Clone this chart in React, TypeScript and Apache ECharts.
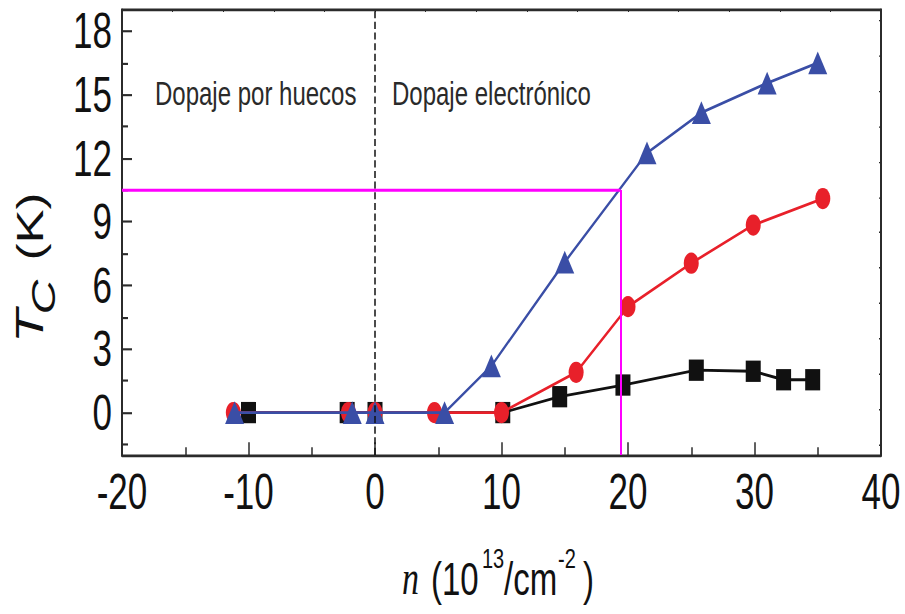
import React, { useEffect, useRef } from "react";
import * as echarts from "echarts";

// Carrier density n (10^13 cm^-2) and critical temperature Tc (K) per sample set
const squareN = [-10, -2.2, 0, 10.1, 14.6, 19.6, 25.4, 29.9, 32.3, 34.6];
const squareTc = [0, 0, 0, 0, 0.75, 1.3, 2.0, 1.95, 1.55, 1.55];

const circleN = [-11.2, -2.1, 0, 4.7, 10.0, 15.9, 20.0, 25.0, 29.9, 35.4];
const circleTc = [0, 0, 0, 0, 0, 1.9, 5.0, 7.05, 8.85, 10.1];

const triangleN = [-11.1, -1.8, 0, 5.5, 9.2, 15.0, 21.5, 25.8, 31.0, 35.0];
const triangleTc = [0, 0, 0, 0, 2.2, 7.1, 12.25, 14.15, 15.55, 16.5];

// Guide lines: charge neutrality and the Tc read-off at a given density
const neutralN = 0;
const guideN = 19.4;
const guideTc = 10.5;

// Axis ranges and tick values
const xMin = -20;
const xMax = 40;
const yMin = -2;
const yMax = 19;
const yLabelValues = [0, 3, 6, 9, 12, 15, 18];
const yMinorValues = [-1.5, 1.5, 4.5, 7.5, 10.5, 13.5, 16.5];
const rightTickValues = [-1.5, 0.17, 1.83, 3.5, 5.17, 6.83, 8.5, 10.17, 11.83, 13.5, 15.17, 16.83, 18.5];

const holeRegion = "Dopaje por huecos";
const electronRegion = "Dopaje electrónico";

const STRETCH = 1.42;
const WIDTH = 905;
const HEIGHT = 614;

const SANS = "Liberation Sans, Arial, Helvetica, sans-serif";
const SERIF = "Liberation Serif, Times New Roman, serif";

const pairs = (xs: number[], ys: number[]) => xs.map((x, i) => [x, ys[i]]);

// place a text by its baseline
const txt = (
  text: string,
  x: number,
  baseline: number,
  size: number,
  extra: Record<string, unknown> = {}
) => ({
  type: "text",
  x,
  y: baseline - 0.35 * size,
  style: {
    text,
    fontSize: size,
    fontFamily: SANS,
    fill: "#111",
    align: "left",
    verticalAlign: "middle",
    ...extra,
  },
});

export default function App() {
  const ref = useRef<HTMLDivElement>(null);

  useEffect(() => {
    if (!ref.current) return;
    const chart = echarts.init(ref.current, undefined, { renderer: "svg" });

    const axisColor = "#2b2b2b";
    const tickLabel = {
      fontSize: 35,
      color: "#111",
      fontFamily: SANS,
    };

    const option = {
      animation: false,
      backgroundColor: "#fff",
      grid: { left: 122, top: 7, width: 759, height: 313.4, containLabel: false },
      xAxis: [
        {
          type: "value",
          min: xMin,
          max: xMax,
          interval: 10,
          position: "bottom",
          axisLine: { show: true, onZero: false, lineStyle: { color: axisColor, width: 2 } },
          axisTick: { show: true, inside: true, length: 9, lineStyle: { color: axisColor, width: 1.5 } },
          minorTick: { show: true, splitNumber: 2, length: 5.5, lineStyle: { color: axisColor, width: 1.5 } },
          splitLine: { show: false },
          axisLabel: { ...tickLabel, margin: 8 },
        },
        {
          type: "value",
          min: xMin,
          max: xMax,
          interval: 4,
          position: "top",
          axisLine: { show: true, onZero: false, lineStyle: { color: axisColor, width: 2 } },
          axisTick: { show: true, inside: true, length: 1.5, lineStyle: { color: axisColor, width: 1 } },
          splitLine: { show: false },
          axisLabel: { show: false },
        },
      ],
      yAxis: [
        {
          type: "value",
          min: yMin,
          max: yMax,
          position: "left",
          axisLine: { show: true, onZero: false, lineStyle: { color: axisColor, width: 2 } },
          axisTick: {
            show: true,
            inside: true,
            length: 10,
            customValues: yLabelValues,
            lineStyle: { color: axisColor, width: 1.5 },
          },
          splitLine: { show: false },
          axisLabel: { ...tickLabel, margin: 10, customValues: yLabelValues },
        },
        {
          type: "value",
          min: yMin,
          max: yMax,
          position: "left",
          axisLine: { show: false, onZero: false },
          axisTick: {
            show: true,
            inside: true,
            length: 6,
            customValues: yMinorValues,
            lineStyle: { color: axisColor, width: 1.5 },
          },
          splitLine: { show: false },
          axisLabel: { show: false },
        },
        {
          type: "value",
          min: yMin,
          max: yMax,
          position: "right",
          axisLine: { show: true, onZero: false, lineStyle: { color: axisColor, width: 2 } },
          axisTick: {
            show: true,
            inside: true,
            length: 2,
            customValues: rightTickValues,
            lineStyle: { color: axisColor, width: 1 },
          },
          splitLine: { show: false },
          axisLabel: { show: false },
        },
      ],
      series: [
        {
          name: "squares",
          type: "line",
          data: pairs(squareN, squareTc),
          symbol: "rect",
          symbolSize: 15,
          showSymbol: true,
          z: 2,
          itemStyle: { color: "#111" },
          lineStyle: { color: "#111", width: 2 },
          markLine: {
            silent: true,
            symbol: "none",
            label: { show: false },
            lineStyle: { color: "#111", type: [5, 2.5], width: 1.5 },
            data: [{ xAxis: neutralN }],
          },
        },
        {
          name: "circles",
          type: "line",
          data: pairs(circleN, circleTc),
          symbol: "circle",
          symbolSize: 15,
          z: 3,
          itemStyle: { color: "#e8202a" },
          lineStyle: { color: "#e8202a", width: 2 },
        },
        {
          name: "triangles",
          type: "line",
          data: pairs(triangleN, triangleTc),
          symbol: "triangle",
          symbolSize: [19, 16],
          z: 4,
          itemStyle: { color: "#3a4ea6" },
          lineStyle: { color: "#3a4ea6", width: 2 },
        },
        {
          name: "guide",
          type: "line",
          data: [],
          z: 6,
          markLine: {
            silent: true,
            symbol: "none",
            label: { show: false },
            lineStyle: { color: "#ff00ff", type: "solid", width: 2 },
            data: [
              [{ coord: [xMin, guideTc] }, { coord: [guideN, guideTc] }],
              [{ coord: [guideN, guideTc] }, { coord: [guideN, yMin] }],
            ],
          },
        },
      ],
      graphic: [
        txt(holeRegion, 155, 73.9, 24, { fill: "#2a2a2a" }),
        txt(electronRegion, 392, 73.9, 24, { fill: "#2a2a2a" }),
        {
          type: "group",
          x: 43,
          y: 241.5,
          rotation: Math.PI / 2,
          children: [
            txt("T", 0, 0, 39, { fontStyle: "italic" }),
            txt("C", 20, 12, 34, { fontStyle: "italic" }),
            txt("(K)", 58, 0, 36),
          ],
        },
        txt("n", 402, 419, 34, { fontStyle: "italic", fontFamily: SERIF }),
        txt("(10", 431, 419, 33),
        txt("13", 482, 400, 20),
        txt("/cm", 504, 419, 33),
        txt("-2", 558, 400, 20),
        txt(")", 583, 419, 33),
      ],
    };

    chart.setOption(option as any);
    return () => chart.dispose();
  }, []);

  return (
    <div
      style={{
        position: "fixed",
        left: 0,
        top: 0,
        width: WIDTH,
        height: HEIGHT,
        overflow: "hidden",
        background: "#fff",
      }}
    >
      <div
        ref={ref}
        style={{
          width: WIDTH,
          height: HEIGHT / STRETCH,
          transform: `scaleY(${STRETCH})`,
          transformOrigin: "0 0",
        }}
      />
    </div>
  );
}
